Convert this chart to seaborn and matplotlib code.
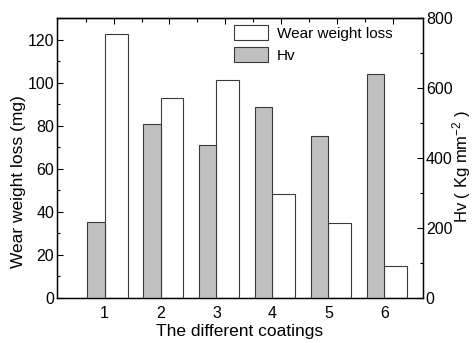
import numpy as np
import pandas as pd
import matplotlib
matplotlib.use("Agg")
import matplotlib.pyplot as plt
import matplotlib.patches as mpatches
import seaborn as sns

# data
coatings = [1, 2, 3, 4, 5, 6]
wear_loss = [122.5, 93.0, 101.0, 48.5, 34.7, 15.0]   # mg, left axis
hv = [217, 498, 436, 547, 464, 639]                  # Kg mm^-2, right axis

df = pd.DataFrame({"coating": coatings, "wear": wear_loss, "hv": hv})

sns.set_theme(style="ticks")
plt.rcParams['font.family'] = ['Liberation Sans', 'DejaVu Sans']
plt.rcParams['mathtext.default'] = 'regular'
for key in ['text.color', 'axes.labelcolor', 'xtick.color', 'ytick.color', 'axes.edgecolor']:
    plt.rcParams[key] = 'black'

fig = plt.figure(figsize=(4.73, 3.43), dpi=100)
ax = fig.add_axes([57 / 473, 45 / 343, 366 / 473, 280 / 343])
ax2 = ax.twinx()

grey = "#c0c0c0"
edge = "#3a3a3a"

# white bars right of the tick, grey bars left of it
ax.bar(df["coating"], df["wear"], width=0.41, align="edge",
       color="white", edgecolor=edge, linewidth=0.8)
ax2.bar(df["coating"], df["hv"], width=-0.31, align="edge",
        color=grey, edgecolor=edge, linewidth=0.8)

ax.set_xlim(0.15, 6.69)
ax.set_ylim(0, 130)
ax2.set_ylim(0, 800)

ax.set_xticks(coatings)
ax.tick_params(axis="x", length=0, labelsize=11.5, pad=6)
ax.set_yticks(np.arange(0, 121, 20))
ax.set_yticks(np.arange(0, 131, 10), minor=True)
ax.tick_params(axis="y", which="major", direction="in", length=4.5, width=0.8, labelsize=11.5, pad=2)
ax.tick_params(axis="y", which="minor", direction="in", length=2.5, width=0.8)

ax2.set_yticks(np.arange(0, 801, 200))
ax2.set_yticks(np.arange(0, 801, 100), minor=True)
ax2.tick_params(axis="y", which="major", direction="in", length=4.5, width=0.8, labelsize=11.5, pad=2)
ax2.tick_params(axis="y", which="minor", direction="in", length=2.5, width=0.8)

# inward ticks along the top edge
top = ax.secondary_xaxis("top")
top.set_xticks(np.arange(1.16, 6.2, 1.0))
top.set_xticks(np.arange(0.66, 6.2, 1.0), minor=True)
top.set_xticklabels([])
top.tick_params(which="major", direction="in", length=4, width=0.8)
top.tick_params(which="minor", direction="in", length=3, width=0.8)

for a in (ax, ax2):
    for s in a.spines.values():
        s.set_color("black")
        s.set_linewidth(0.9)
top.spines["top"].set_linewidth(0.9)

ax.set_xlabel("The different coatings", fontsize=12.5, labelpad=2)
ax.set_ylabel("Wear weight loss (mg)", fontsize=12.5, labelpad=1, y=0.415)
ax2.set_ylabel(r"Hv ( Kg mm$^{-2}$ )", fontsize=12, labelpad=-1.5, y=0.47)

handles = [
    mpatches.Patch(facecolor="white", edgecolor=edge, linewidth=0.8, label="Wear weight loss"),
    mpatches.Patch(facecolor=grey, edgecolor=edge, linewidth=0.8, label="Hv"),
]
ax2.legend(handles=handles, loc="upper left", bbox_to_anchor=(0.484, 0.975),
           frameon=False, fontsize=11, borderpad=0, borderaxespad=0,
           handlelength=2.2, handleheight=1.1, handletextpad=0.6, labelspacing=0.45)

fig.savefig("out.png", dpi=100)
